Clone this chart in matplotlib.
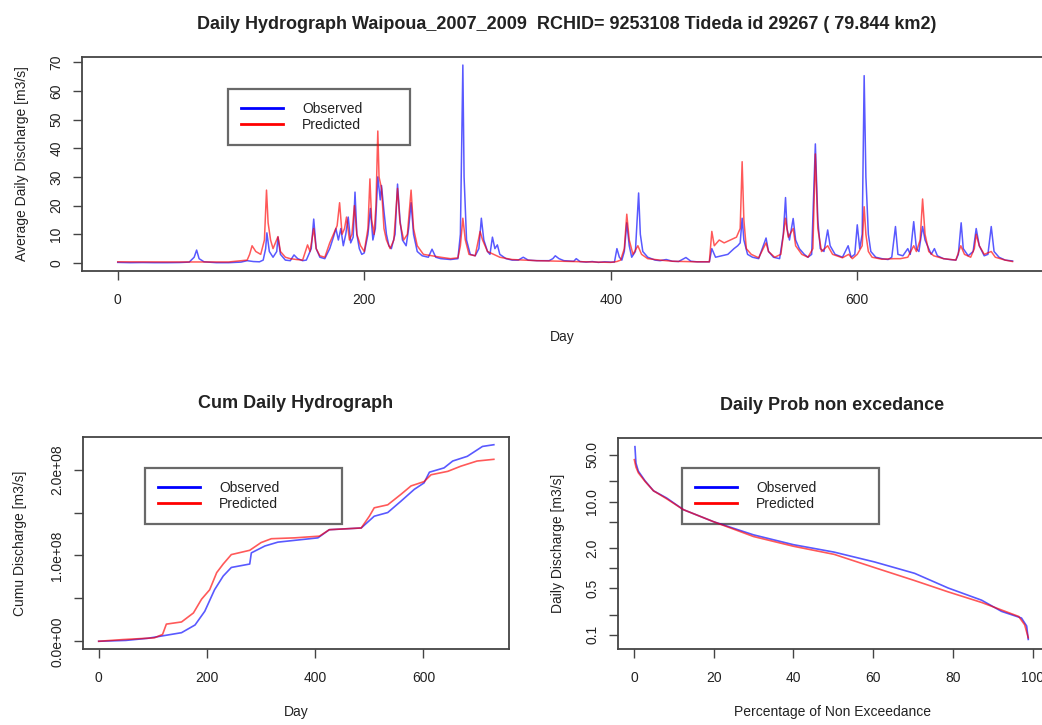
import matplotlib
matplotlib.use("Agg")
import matplotlib.pyplot as plt
from matplotlib.lines import Line2D
import numpy as np

plt.rcParams['font.family'] = ['Liberation Sans', 'DejaVu Sans']

# ---------------- data ----------------
title_top = "Daily Hydrograph Waipoua_2007_2009  RCHID= 9253108 Tideda id 29267 ( 79.844 km2)"
series_names = ["Observed", "Predicted"]

# Daily hydrograph key points (day, m3/s)
obs_day = [0, 10, 20, 30, 40, 50, 58, 62, 64, 66, 70, 80, 90, 100, 105, 110, 115, 118, 120, 121, 123, 126, 129, 130,
           132, 136, 140, 143, 146, 150, 153, 155, 157, 159, 161, 164, 168, 172, 175, 177, 179, 181, 183, 185, 187,
           189, 191, 192.5, 194, 196, 198, 200, 203, 205, 207, 209, 211, 213, 214, 216, 218, 220, 222, 225, 227,
           229, 231, 234, 236, 238, 240, 243, 247, 252, 255, 258, 262, 270, 276, 278, 280, 281, 283, 286, 290, 293,
           295, 297, 300, 302, 304, 306, 308, 310, 315, 320, 325, 329, 333, 340, 350, 353, 355, 358, 362, 370, 372,
           375, 380, 385, 390, 395, 400, 403, 405, 407, 409, 411, 413, 415, 417, 420, 422.6, 424, 426, 430, 436,
           440, 445, 450, 455, 461, 465, 470, 480, 482, 485, 490, 495, 500, 503, 505, 506.6, 508, 511, 515, 520,
           526, 528, 532, 537, 540, 541.8, 543, 545, 548, 550, 553, 557, 560, 563, 566, 568, 570, 573, 576, 578,
           582, 588, 592.6, 595, 598, 600, 602, 604, 605.6, 607, 609, 611, 615, 620, 625, 628, 631, 633, 637, 641,
           643, 645.8, 648, 650, 653, 655, 657, 660, 662.6, 665, 670, 675, 680, 682, 684.3, 686, 690, 694, 696.5,
           699, 703, 706, 708.7, 711, 715, 720, 726]
obs_q = [0.2, 0.1, 0.15, 0.1, 0.1, 0.15, 0.3, 2, 4.5, 1.5, 0.4, 0.1, 0.1, 0.3, 0.8, 0.5, 0.4, 1, 5, 10.5, 4, 2, 4, 9,
         3, 1, 0.8, 2.8, 1.5, 0.8, 1, 3, 5, 15.3, 5, 2, 1.5, 5, 9, 12, 8, 12, 6, 10, 16,
         7, 9, 24.7, 10, 5, 3, 3.5, 10, 19, 8, 12, 30, 22, 27, 18, 10, 6, 5, 10, 27.5,
         15, 8, 6, 12, 21, 10, 4, 2.5, 2, 4.8, 2, 1.5, 1.2, 1.5, 10, 69, 30, 8, 3, 2.5, 5,
         15.6, 8, 4, 3, 9, 5, 6.3, 3, 1.5, 1, 1, 2, 1, 0.8, 0.8, 1.5, 2.5, 1.5, 0.8, 0.6, 1.5,
         0.5, 0.3, 0.5, 0.2, 0.4, 0.3, 0.3, 5, 2, 1, 4, 14, 6, 2, 4, 24.4, 10, 4, 2, 1,
         0.8, 1.2, 0.6, 0.5, 1.9, 0.6, 0.4, 0.4, 5, 2, 2.5, 3, 5, 6, 7, 15.6, 8, 3, 2, 1.5,
         8.7, 4, 2, 1.5, 10, 22.8, 12, 8, 15.5, 8, 5, 3, 2, 3, 41.5, 15, 5, 4, 11.5, 6,
         3, 2, 6, 2, 3, 13.3, 5, 10, 65.3, 30, 10, 4, 2, 1.5, 1.2, 2, 12.7, 3, 2.5, 5,
         3, 14.4, 5, 4, 12.7, 8, 6, 3, 5, 2.5, 1.5, 1.2, 1, 3, 14, 5, 2.5, 4, 12,
         6, 2.5, 3, 12.7, 4, 2, 1, 0.7]

pred_day = [0, 50, 90, 100, 105, 107, 109, 112, 116, 119, 120.7, 122, 124, 126, 130, 132, 136, 140, 145, 150, 154,
            156, 159, 161, 164, 168, 172, 175, 178, 180, 182, 184, 185.6, 188, 190, 192, 194, 197, 200, 203, 204.6,
            206, 208, 209.5, 211, 212, 214, 216, 218, 221, 224, 227, 229, 232, 235, 238, 240, 243, 248, 255, 262,
            270, 276, 278, 280, 282, 285, 290, 294, 296, 300, 305, 310, 320, 340, 360, 380, 400, 405, 408, 411, 413,
            415, 418, 422, 425, 430, 440, 450, 460, 470, 480, 482, 484, 488, 492, 497, 502, 505, 506.6, 508, 510,
            514, 520, 526, 528, 533, 538, 541.8, 544, 548, 550, 555, 560, 564, 566, 568, 571, 576, 580, 588, 593,
            596, 600, 604, 605.6, 607, 609, 612, 620, 630, 635, 641, 645.8, 648, 651, 653, 655, 658, 662, 670, 680,
            684, 687, 692, 695, 696.5, 699, 703, 708.7, 712, 720, 726]
pred_q = [0.4, 0.35, 0.35, 0.8, 1, 3, 6, 4, 3, 8, 25.4, 14, 8, 5, 9.2, 4, 2, 1.5, 1.2, 1, 6.3,
          4, 12, 5, 2.5, 2, 7, 10, 13, 21, 10, 12, 16, 8, 10, 20, 10, 6, 4, 12, 29.3,
          15, 10, 20, 46, 30, 26, 12, 8, 5, 8, 26, 14, 8, 10, 25.4, 12, 6, 3, 2.5, 2,
          1.5, 1.8, 6, 15.6, 8, 3, 2.5, 11, 8, 4, 3, 2, 1.2, 0.8, 0.6, 0.4, 0.2, 0.5, 1, 5, 17,
          8, 3, 6, 3, 1.5, 1, 0.6, 0.5, 0.4, 0.4, 11, 6, 8, 7, 8, 9, 12, 35.3, 15, 5,
          3, 1.8, 7, 4, 2, 3, 15.6, 9, 12, 6, 3, 2, 5, 38, 12, 4, 6, 3, 1.8, 3,
          1.5, 3, 6, 19.6, 10, 4, 2, 1.3, 1.5, 1.5, 2, 6, 4, 8, 22.3, 10, 4, 2.5, 1.5, 1,
          6, 3, 2, 5, 10, 6, 3, 4, 2, 1, 0.5]

# Cumulative hydrograph key points (day, m3)
cum_obs_day = [0, 50, 91, 115, 153, 178, 196, 214, 230, 245, 279, 282, 307, 331, 405, 426, 485, 509, 534, 558,
               583, 601, 611, 638, 654, 681, 709, 730]
cum_obs_val = [0, 0.01e8, 0.035e8, 0.06e8, 0.10e8, 0.19e8, 0.35e8, 0.60e8, 0.76e8, 0.86e8, 0.90e8, 1.03e8, 1.11e8,
               1.155e8, 1.205e8, 1.30e8, 1.32e8, 1.457e8, 1.50e8, 1.63e8, 1.77e8, 1.845e8, 1.97e8, 2.02e8,
               2.10e8, 2.155e8, 2.27e8, 2.29e8]
cum_pred_day = [0, 45, 103, 118, 125, 153, 175, 190, 205, 218, 230, 245, 279, 300, 319, 362, 408, 426, 485, 500,
                509, 534, 558, 577, 601, 614, 645, 669, 699, 730]
cum_pred_val = [0, 0.02e8, 0.04e8, 0.08e8, 0.20e8, 0.225e8, 0.33e8, 0.49e8, 0.60e8, 0.80e8, 0.90e8, 1.01e8,
                1.06e8, 1.15e8, 1.195e8, 1.205e8, 1.225e8, 1.30e8, 1.32e8, 1.457e8, 1.555e8, 1.59e8, 1.71e8,
                1.81e8, 1.86e8, 1.94e8, 1.98e8, 2.04e8, 2.10e8, 2.12e8]

# Probability of non exceedance (percent, m3/s)
ex_obs_pct = [0.25, 0.5, 1.1, 2.8, 4.9, 8.2, 12.4, 20, 30, 40, 50.2, 60.3, 70.4, 78.8, 87.2, 92.2, 97.2, 98.5, 98.9]
ex_obs_q = [66.7, 37.8, 28.6, 20.4, 14.5, 11.3, 7.55, 4.97, 3.16, 2.25, 1.74, 1.24, 0.835, 0.503, 0.33, 0.224,
            0.178, 0.135, 0.085]
ex_pred_pct = [0.1, 0.5, 1.1, 2.8, 4.9, 8.2, 12.4, 20, 30, 40, 50.2, 60.3, 70.4, 78.8, 87.2, 92.2, 96.5, 98.0, 98.9]
ex_pred_q = [42.5, 33, 27, 20, 14.5, 11, 7.55, 4.97, 2.98, 2.13, 1.61, 1.02, 0.65, 0.44, 0.305, 0.235, 0.188,
             0.141, 0.09]

c_obs = "#0000FF"
c_pred = "#FF0000"
txt = "#222222"
frame = "#444444"

# ---------------- figure ----------------
W, H = 1042, 725
fig = plt.figure(figsize=(W / 100, H / 100), dpi=100)


def pos(l, t, r, b):
    return [l / W, 1 - b / H, (r - l) / W, (b - t) / H]


def style(ax):
    for s in ax.spines.values():
        s.set_color(frame)
        s.set_linewidth(1.3)
    ax.tick_params(direction='out', length=6.5, width=1.0, color=frame, labelsize=10, labelcolor=txt, pad=7)
    ax.tick_params(axis='x', pad=9)
    for lab in ax.get_yticklabels():
        lab.set_rotation(90)
        lab.set_va('center')


def legend(ax, l, t, r, b):
    handles = [Line2D([], [], color=c_obs, lw=2.0), Line2D([], [], color=c_pred, lw=2.0)]
    lg = ax.legend(handles, series_names, loc='upper left',
                   bbox_to_anchor=(l / W, 1 - b / H, (r - l) / W, (b - t) / H),
                   bbox_transform=fig.transFigure, mode='expand', fontsize=10, frameon=True,
                   fancybox=False, borderpad=0.95, labelspacing=0.15, handlelength=3.0,
                   handletextpad=1.4, borderaxespad=0)
    lg.set_zorder(1)
    fr = lg.get_frame()
    fr.set_edgecolor(frame)
    fr.set_linewidth(1.6)
    fr.set_facecolor('none')
    for t_ in lg.get_texts():
        t_.set_color(txt)
    return lg


# Top: daily hydrograph
ax1 = fig.add_axes(pos(82, 57, 1052, 271))
ax1.plot(obs_day, obs_q, color=c_obs, lw=1.1, alpha=0.65, zorder=3)
ax1.plot(pred_day, pred_q, color=c_pred, lw=1.1, alpha=0.65, zorder=3)
ax1.set_xlim(-29, 758)
ax1.set_ylim(-2.8, 71.8)
ax1.set_xticks([0, 200, 400, 600])
ax1.set_yticks(np.arange(0, 71, 10))
style(ax1)
ax1.set_title(title_top, fontsize=13, fontweight='bold', color=txt, pad=20)
ax1.set_xlabel("Day", fontsize=10, color=txt)
ax1.set_ylabel("Average Daily Discharge [m3/s]", fontsize=10, color=txt)
ax1.xaxis.set_label_coords((562 - 82) / 970, (271 - 330) / 214)
ax1.yaxis.set_label_coords((29 - 82) / 970, 0.5)
legend(ax1, 228, 89, 410, 143)

# Bottom left: cumulative
ax2 = fig.add_axes(pos(83, 437, 509, 649))
ax2.plot(cum_obs_day, cum_obs_val, color=c_obs, lw=1.2, alpha=0.65, zorder=3)
ax2.plot(cum_pred_day, cum_pred_val, color=c_pred, lw=1.2, alpha=0.65, zorder=3)
ax2.set_xlim(-29, 758)
ax2.set_ylim(-0.09e8, 2.38e8)
ax2.set_xticks([0, 200, 400, 600])
ax2.set_yticks([0, 0.5e8, 1e8, 1.5e8, 2e8])
ax2.set_yticklabels(["0.0e+00", "", "1.0e+08", "", "2.0e+08"])
style(ax2)
ax2.set_title("Cum Daily Hydrograph", fontsize=13, fontweight='bold', color=txt, pad=21)
ax2.set_xlabel("Day", fontsize=10, color=txt)
ax2.set_ylabel("Cumu Discharge [m3/s]", fontsize=10, color=txt)
ax2.xaxis.set_label_coords(0.5, (649 - 705) / 212)
ax2.yaxis.set_label_coords((27 - 83) / 426, 0.5)
legend(ax2, 145, 468, 342, 522)

# Bottom right: prob non exceedance
ax3 = fig.add_axes(pos(618, 438, 1047, 649))
ax3.plot(ex_obs_pct, ex_obs_q, color=c_obs, lw=1.2, alpha=0.65, zorder=3)
ax3.plot(ex_pred_pct, ex_pred_q, color=c_pred, lw=1.2, alpha=0.65, zorder=3)
ax3.set_yscale('log')
ax3.set_xlim(-4, 103.6)
ax3.set_ylim(0.061, 90)
ax3.set_xticks([0, 20, 40, 60, 80, 100])
ax3.set_yticks([0.1, 0.2, 0.5, 1, 2, 5, 10, 20, 50])
ax3.set_yticklabels(["0.1", "", "0.5", "", "2.0", "", "10.0", "", "50.0"])
ax3.minorticks_off()
style(ax3)
ax3.set_title("Daily Prob non excedance", fontsize=13, fontweight='bold', color=txt, pad=20)
ax3.set_xlabel("Percentage of Non Exceedance", fontsize=10, color=txt)
ax3.set_ylabel("Daily Discharge [m3/s]", fontsize=10, color=txt)
ax3.xaxis.set_label_coords((832 - 618) / 429, (649 - 705) / 211)
ax3.yaxis.set_label_coords((565 - 618) / 429, 0.5)
legend(ax3, 682, 468, 879, 522)

fig.savefig("out.png", dpi=100)
